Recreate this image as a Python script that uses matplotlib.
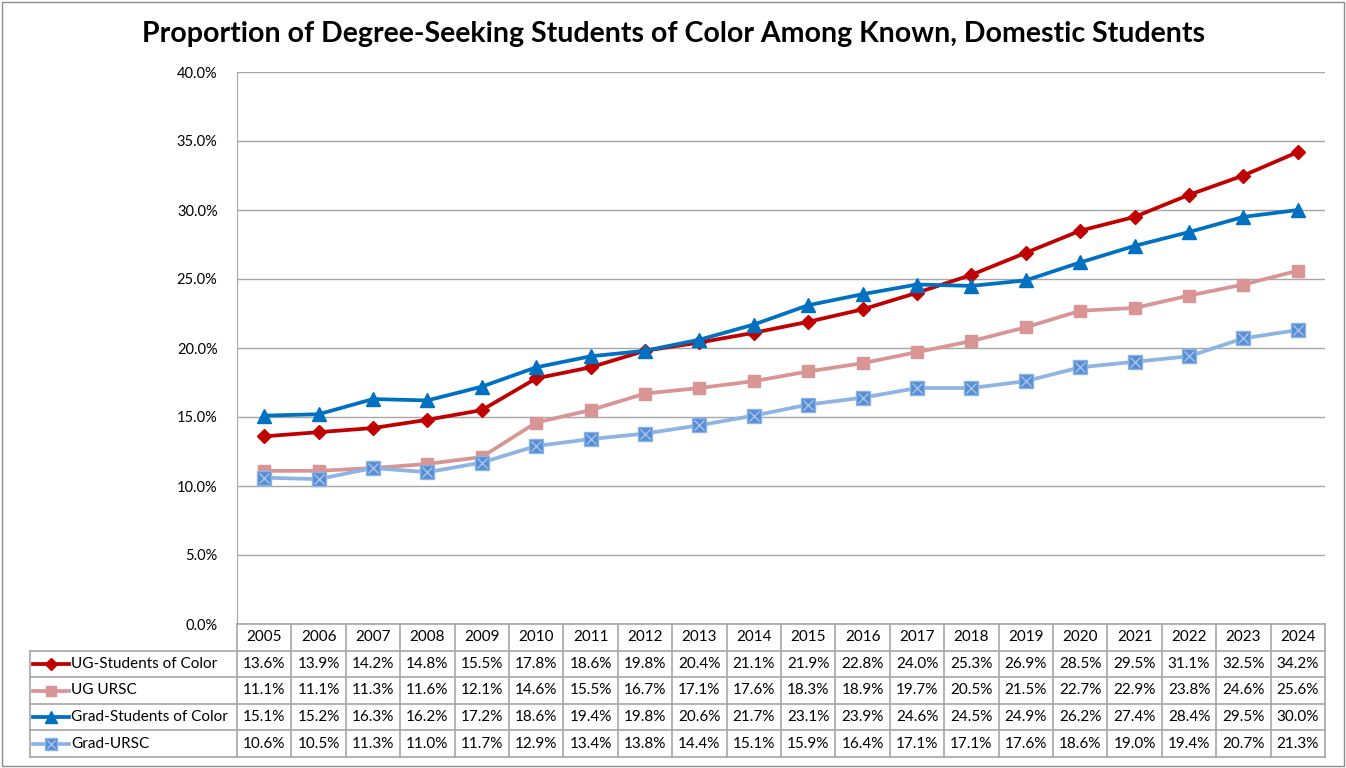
import numpy as np
import matplotlib.pyplot as plt

plt.rcParams['font.family'] = ['Lato', 'DejaVu Sans']

years = [str(y) for y in range(2005, 2025)]
ug_soc = [13.6, 13.9, 14.2, 14.8, 15.5, 17.8, 18.6, 19.8, 20.4, 21.1,
          21.9, 22.8, 24.0, 25.3, 26.9, 28.5, 29.5, 31.1, 32.5, 34.2]
ug_ursc = [11.1, 11.1, 11.3, 11.6, 12.1, 14.6, 15.5, 16.7, 17.1, 17.6,
           18.3, 18.9, 19.7, 20.5, 21.5, 22.7, 22.9, 23.8, 24.6, 25.6]
grad_soc = [15.1, 15.2, 16.3, 16.2, 17.2, 18.6, 19.4, 19.8, 20.6, 21.7,
            23.1, 23.9, 24.6, 24.5, 24.9, 26.2, 27.4, 28.4, 29.5, 30.0]
grad_ursc = [10.6, 10.5, 11.3, 11.0, 11.7, 12.9, 13.4, 13.8, 14.4, 15.1,
             15.9, 16.4, 17.1, 17.1, 17.6, 18.6, 19.0, 19.4, 20.7, 21.3]
series_names = ['UG-Students of Color', 'UG URSC', 'Grad-Students of Color', 'Grad-URSC']
y_ticks = [0, 5, 10, 15, 20, 25, 30, 35, 40]

styles = [
    dict(color='#C00000', marker='D', ms=7, mfc='#C00000', mec='#C00000'),
    dict(color='#D99594', marker='s', ms=8.5, mfc='#D99594', mec='#D99594'),
    dict(color='#0070C0', marker='^', ms=9.5, mfc='#0070C0', mec='#0070C0'),
    dict(color='#8DB4E2', marker='s', ms=9.5, mfc='#558ED5', mec='#8DB4E2'),
]
all_series = [ug_soc, ug_ursc, grad_soc, grad_ursc]

W, H = 1346, 768
fig = plt.figure(figsize=(W / 100, H / 100), dpi=100)

def px_rect(x0, y0, x1, y1):
    return [x0 / W, 1 - y1 / H, (x1 - x0) / W, (y1 - y0) / H]

grid_col = '#a6a6a6'

ax = fig.add_axes(px_rect(237, 72, 1325, 624))
x = np.arange(len(years))
for vals, st in zip(all_series, styles):
    ax.plot(x, vals, lw=2.7, color=st['color'], marker=st['marker'], ms=st['ms'],
            mfc=st['mfc'], mec=st['mec'], zorder=3)
# x inside the squares for Grad-URSC
ax.plot(x, grad_ursc, ls='none', marker='x', ms=7.5, mew=1.0, color='#a9c4ea', zorder=4)

ax.set_xlim(-0.5, len(years) - 0.5)
ax.set_ylim(0, 40)
ax.set_yticks(y_ticks)
ax.set_yticklabels([f'{t:.1f}%' for t in y_ticks], fontsize=10.5)
ax.set_xticks([])
ax.grid(axis='y', color=grid_col, lw=1)
ax.set_axisbelow(True)
for s in ['top', 'right', 'bottom']:
    ax.spines[s].set_visible(False)
ax.spines['left'].set_color(grid_col)
ax.tick_params(axis='y', length=0, pad=14)

# data table below the plot
legend_units = (237 - 30) / ((1325 - 237) / len(years))
tax = fig.add_axes(px_rect(30, 624, 1325, 757))
tax.set_xlim(-0.5 - legend_units, len(years) - 0.5)
tax.set_ylim(5, 0)
tax.axis('off')
lkw = dict(color=grid_col, lw=1.2, clip_on=False)
tax.plot([-0.5, len(years) - 0.5], [0, 0], **lkw)
for r in range(1, 6):
    tax.plot([-0.5 - legend_units, len(years) - 0.5], [r, r], **lkw)
tax.plot([-0.5 - legend_units] * 2, [1, 5], **lkw)
for c in range(len(years) + 1):
    tax.plot([c - 0.5] * 2, [0, 5], **lkw)
for c, yr in enumerate(years):
    tax.text(c, 0.5, yr, ha='center', va='center', fontsize=11)
for r, (vals, name, st) in enumerate(zip(all_series, series_names, styles)):
    yr_ = r + 1.5
    for c, v in enumerate(vals):
        tax.text(c, yr_, f'{v:.1f}%', ha='center', va='center', fontsize=11)
    x0 = -0.5 - legend_units
    tax.plot([x0 + 0.06, x0 + 0.72], [yr_, yr_], lw=2.7, color=st['color'], clip_on=False)
    tax.plot([x0 + 0.39], [yr_], marker=st['marker'], ms=st['ms'] * 0.85,
             mfc=st['mfc'], mec=st['mec'], clip_on=False)
    if r == 3:
        tax.plot([x0 + 0.39], [yr_], marker='x', ms=6, mew=1.0, color='#a9c4ea', clip_on=False)
    tax.text(x0 + 0.76, yr_, name, ha='left', va='center', fontsize=11)

fig.text(0.5, 1 - 34 / H, 'Proportion of Degree-Seeking Students of Color Among Known, Domestic Students',
         ha='center', va='center', fontsize=20.5, fontweight='bold')

# outer chart border
fig.add_artist(plt.Rectangle((2 / W, 2 / H), 1 - 4 / W, 1 - 4 / H, transform=fig.transFigure,
                             fill=False, ec='#8c8c8c', lw=1))

fig.savefig('out.png', dpi=100)
